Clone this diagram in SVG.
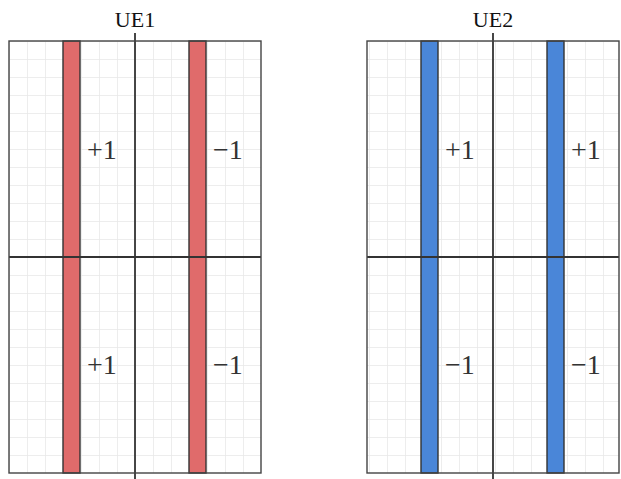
<svg xmlns="http://www.w3.org/2000/svg" width="621" height="479" viewBox="0 0 621 479">
<defs>
<pattern id="grid" x="9" y="41" width="18" height="18" patternUnits="userSpaceOnUse">
<path d="M0 0H18M0 0V18" fill="none" stroke="#e8e8e8" stroke-width="1.5"/>
</pattern>
</defs>
<style>
.bg{fill:url(#grid)}
.frame{fill:none;stroke:#444;stroke-width:1.4}
.axis{stroke:#333;stroke-width:1.8}
.red{fill:#e06b6b;stroke:#333;stroke-width:1.4}
.blue{fill:#4a86d8;stroke:#333;stroke-width:1.4}
</style>
<g id="UE1">
<rect class="bg" x="9" y="41" width="252" height="432"/>
<rect class="red" x="63" y="41" width="17" height="432"/>
<rect class="red" x="189" y="41" width="17" height="432"/>
<line class="axis" x1="9" y1="257" x2="261" y2="257"/>
<line class="axis" x1="135" y1="33" x2="135" y2="479"/>
<rect class="frame" x="9" y="41" width="252" height="432"/>
<text x="135" y="27" font-family="Liberation Serif, serif" font-size="22" fill="#111" text-anchor="middle">UE1</text>
<g font-family="Liberation Serif, serif" font-size="28" fill="#333">
<text x="87" y="159">+1</text>
<text x="213" y="159">−1</text>
<text x="87" y="374">+1</text>
<text x="213" y="374">−1</text>
</g>
</g>
<g id="UE2">
<rect class="bg" x="367" y="41" width="252" height="432"/>
<rect class="blue" x="421" y="41" width="17" height="432"/>
<rect class="blue" x="547" y="41" width="17" height="432"/>
<line class="axis" x1="367" y1="257" x2="619" y2="257"/>
<line class="axis" x1="493" y1="33" x2="493" y2="479"/>
<rect class="frame" x="367" y="41" width="252" height="432"/>
<text x="493" y="27" font-family="Liberation Serif, serif" font-size="22" fill="#111" text-anchor="middle">UE2</text>
<g font-family="Liberation Serif, serif" font-size="28" fill="#333">
<text x="445" y="159">+1</text>
<text x="571" y="159">+1</text>
<text x="445" y="374">−1</text>
<text x="571" y="374">−1</text>
</g>
</g>
</svg>
